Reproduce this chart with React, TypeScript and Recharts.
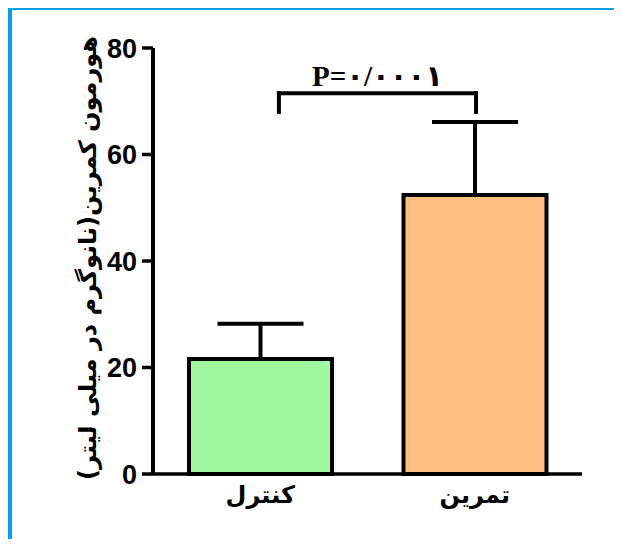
import { Bar, BarChart, ErrorBar, ReferenceLine, XAxis, YAxis } from "recharts";

const groups = ["کنترل", "تمرین"];
const means = [21.6, 52.4];
const errors = [6.6, 13.7];
const barColors = ["#A0F8A0", "#FFBF80"];
const yTicks = [0, 20, 40, 60, 80];
const yLabel = "هورمون کمرین(نانوگرم در میلی لیتر)";
const pLabel = "P=۰/۰۰۰۱";
// significance bracket: ends as fractions of the plot width, then top and foot heights
const bracketX = [0.2935, 0.753];
const bracketY = [71.5, 68];

const rows = groups.map((name, i) => ({
  name,
  value: means[i],
  err: [0, errors[i]],
  fill: barColors[i],
}));

const arabicFont = "DejaVu Sans, sans-serif";
const ink = "#000";

export default function App() {
  return (
    <div style={{ position: "relative", margin: -8, width: 622, height: 547, background: "#fff" }}>
      <div
        style={{
          position: "absolute",
          left: 7,
          top: 5,
          width: 640,
          height: 531,
          border: "5px solid #00A2E8",
          borderRight: "none",
        }}
      />
      <div style={{ position: "absolute", left: 0, top: 0 }}>
        <BarChart
          width={622}
          height={547}
          data={rows}
          margin={{ top: 48, right: 40, bottom: 23, left: 0 }}
        >
          <XAxis
            dataKey="name"
            height={50}
            tickLine={false}
            tickSize={0}
            tickMargin={12}
            axisLine={{ stroke: ink, strokeWidth: 3.5 }}
            tick={{ fill: ink, fontSize: 24, fontWeight: "bold", fontFamily: arabicFont }}
          />
          <XAxis xAxisId="br" type="number" domain={[0, 1]} allowDataOverflow hide />
          <YAxis
            width={153}
            domain={[0, 80]}
            ticks={yTicks}
            tickSize={11}
            tickMargin={5}
            axisLine={{ stroke: ink, strokeWidth: 4 }}
            tickLine={{ stroke: ink, strokeWidth: 3.5 }}
            tick={{ fill: ink, fontSize: 27, fontWeight: "bold", fontFamily: "Liberation Sans, Arial" }}
            label={{
              content: () => (
                <text
                  transform="translate(88,258) rotate(-90)"
                  textAnchor="middle"
                  dominantBaseline="central"
                  fill={ink}
                  fontSize={24}
                  fontWeight="bold"
                  fontFamily={arabicFont}
                >
                  {yLabel}
                </text>
              ),
            }}
          />
          <Bar
            dataKey="value"
            barSize={143}
            stroke={ink}
            strokeWidth={4}
            isAnimationActive={false}
          >
            <ErrorBar
              dataKey="err"
              direction="y"
              width={43}
              stroke={ink}
              strokeWidth={4}
              isAnimationActive={false}
            />
          </Bar>
          <ReferenceLine
            xAxisId="br"
            segment={[
              { x: bracketX[0], y: bracketY[0] },
              { x: bracketX[1], y: bracketY[0] },
            ]}
            stroke={ink}
            strokeWidth={4}
            strokeLinecap="square"
            label={{
              value: pLabel,
              position: "top",
              offset: 7,
              fill: ink,
              fontSize: 29,
              fontWeight: "bold",
              fontFamily: "Liberation Serif, DejaVu Sans, serif",
            }}
          />
          {bracketX.map((x) => (
            <ReferenceLine
              key={x}
              xAxisId="br"
              segment={[
                { x, y: bracketY[0] },
                { x, y: bracketY[1] },
              ]}
              stroke={ink}
              strokeWidth={4}
              strokeLinecap="square"
            />
          ))}
        </BarChart>
      </div>
    </div>
  );
}
